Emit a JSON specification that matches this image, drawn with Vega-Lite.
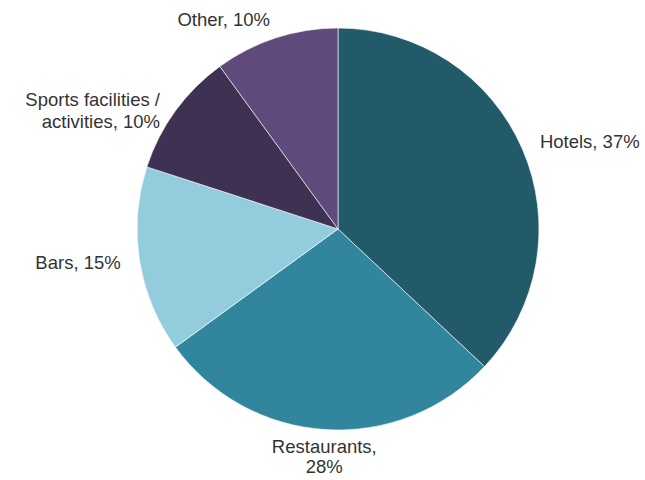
{
  "$schema": "https://vega.github.io/schema/vega-lite/v6.json",
  "autosize": "none",
  "width": 614,
  "height": 458,
  "padding": {"left": 31, "top": 0, "right": 0, "bottom": 22},
  "background": "#ffffff",
  "view": {"stroke": null},
  "data": {
    "values": [
      {"category": "Hotels", "value": 37, "order": 1, "label": "Hotels, 37%", "side": "left"},
      {"category": "Restaurants", "value": 28, "order": 2, "label": "Restaurants,\n28%", "side": "center"},
      {"category": "Bars", "value": 15, "order": 3, "label": "Bars, 15%", "side": "right"},
      {"category": "Sports facilities / activities", "value": 10, "order": 4, "label": "Sports facilities /\nactivities, 10%", "side": "right"},
      {"category": "Other", "value": 10, "order": 5, "label": "Other, 10%", "side": "right"}
    ]
  },
  "encoding": {
    "theta": {"field": "value", "type": "quantitative", "stack": true},
    "order": {"field": "order", "type": "quantitative"}
  },
  "layer": [
    {
      "mark": {"type": "arc", "outerRadius": 201, "stroke": "#ffffff", "strokeWidth": 0.6},
      "encoding": {
        "color": {
          "field": "category",
          "type": "nominal",
          "scale": {
            "domain": ["Hotels", "Restaurants", "Bars", "Sports facilities / activities", "Other"],
            "range": ["#235a69", "#31859c", "#93cddd", "#3f3151", "#604a7b"]
          },
          "legend": null
        }
      }
    },
    {
      "mark": {"type": "text", "radius": 220, "align": "left", "baseline": "middle", "font": "Liberation Sans", "fontSize": 18.5, "color": "#333333", "lineBreak": "\n", "lineHeight": 21},
      "encoding": {"text": {"condition": {"test": "datum.side === 'left'", "field": "label"}, "value": ""}}
    },
    {
      "mark": {"type": "text", "radius": 218, "align": "center", "baseline": "middle", "font": "Liberation Sans", "fontSize": 18.5, "color": "#333333", "lineBreak": "\n", "lineHeight": 20},
      "encoding": {"text": {"condition": {"test": "datum.side === 'center'", "field": "label"}, "value": ""}}
    },
    {
      "mark": {"type": "text", "radius": 220, "align": "right", "baseline": "middle", "font": "Liberation Sans", "fontSize": 18.5, "color": "#333333", "lineBreak": "\n", "lineHeight": 22},
      "encoding": {"text": {"condition": {"test": "datum.side === 'right'", "field": "label"}, "value": ""}}
    }
  ]
}
